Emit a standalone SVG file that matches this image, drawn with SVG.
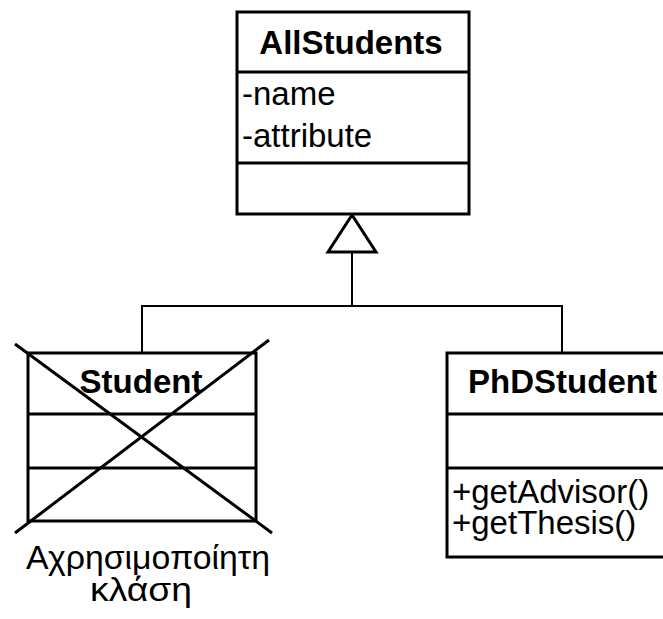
<svg xmlns="http://www.w3.org/2000/svg" width="663" height="619" viewBox="0 0 663 619">
  <style>
    .box { fill: #ffffff; stroke: #000000; stroke-width: 3; }
    .div { stroke: #000000; stroke-width: 3; }
    .conn { fill: none; stroke: #000000; stroke-width: 2; }
    .tri { fill: #ffffff; stroke: #000000; stroke-width: 3; stroke-linejoin: miter; }
    .cross { stroke: #000000; stroke-width: 3; }
    .title { font-family: "Liberation Sans", Arial, sans-serif; font-size: 33px; font-weight: bold; fill: #000000; }
    .member { font-family: "Liberation Sans", Arial, sans-serif; font-size: 33px; fill: #000000; }
  </style>

  <!-- generalization connectors -->
  <g id="connectors">
    <polyline class="conn" points="142,353 142,306 562,306 562,353"/>
    <line class="conn" x1="352" y1="306" x2="352" y2="252"/>
    <polygon class="tri" points="352,215 328,252 376,252"/>
  </g>

  <!-- superclass -->
  <g id="AllStudents">
    <rect class="box" x="237" y="12" width="232" height="202"/>
    <line class="div" x1="237" y1="72" x2="469" y2="72"/>
    <line class="div" x1="237" y1="163" x2="469" y2="163"/>
    <text class="title" x="351" y="54" text-anchor="middle">AllStudents</text>
    <text class="member" x="242" y="105">-name</text>
    <text class="member" x="242" y="146.5">-attribute</text>
  </g>

  <!-- unused (crossed out) class -->
  <g id="Student">
    <rect class="box" x="28" y="353" width="228" height="168"/>
    <line class="div" x1="28" y1="414" x2="256" y2="414"/>
    <line class="div" x1="28" y1="468" x2="256" y2="468"/>
    <text class="title" x="141" y="393" text-anchor="middle">Student</text>
    <line class="cross" x1="15" y1="344" x2="272" y2="533"/>
    <line class="cross" x1="15" y1="533" x2="269" y2="340"/>
  </g>

  <g id="unused-label">
    <text class="member" x="148" y="569" text-anchor="middle" textLength="244" lengthAdjust="spacingAndGlyphs">Αχρησιμοποίητη</text>
    <text class="member" x="141" y="601" text-anchor="middle" textLength="102" lengthAdjust="spacingAndGlyphs">κλάση</text>
  </g>

  <!-- subclass -->
  <g id="PhDStudent">
    <rect class="box" x="447" y="353" width="230" height="204"/>
    <line class="div" x1="447" y1="414" x2="677" y2="414"/>
    <line class="div" x1="447" y1="468" x2="677" y2="468"/>
    <text class="title" x="562.5" y="393" text-anchor="middle">PhDStudent</text>
    <text class="member" x="452" y="503">+getAdvisor()</text>
    <text class="member" x="452" y="534">+getThesis()</text>
  </g>
</svg>
